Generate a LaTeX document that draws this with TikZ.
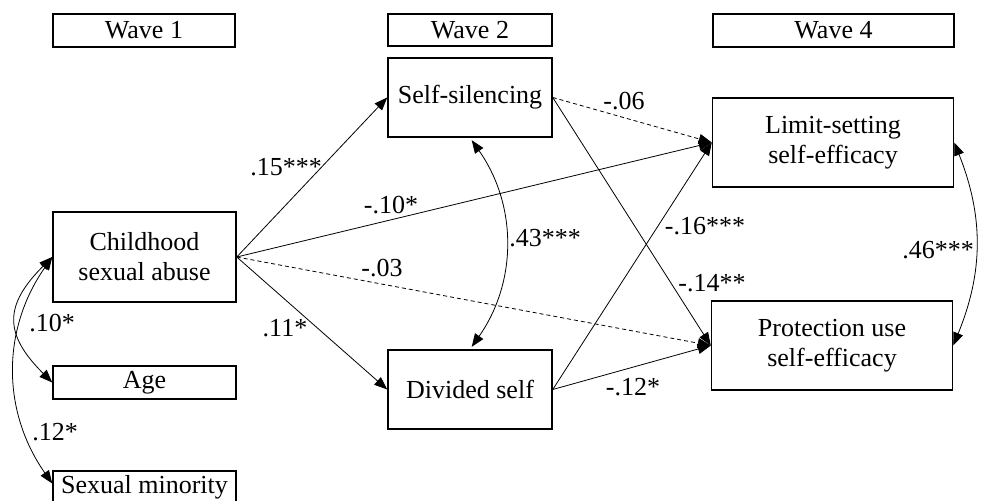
\documentclass[tikz,border=0pt]{standalone}
\usepackage{fontspec}
\setmainfont{Liberation Serif}
\usetikzlibrary{arrows.meta}
\begin{document}
\begin{tikzpicture}[x=1pt,y=1pt,
  box/.style={draw, line width=1.5pt, inner sep=0pt, align=center, font=\fontsize{26}{30}\selectfont},
  lbl/.style={inner sep=0pt, font=\fontsize{26}{30}\selectfont},
  arr/.style={line width=0.8pt, -{Triangle[length=13pt,width=10pt]}},
  dbl/.style={line width=0.8pt, {Triangle[length=13pt,width=10pt]}-{Triangle[length=13pt,width=10pt]}},
  dsh/.style={dash pattern=on 4pt off 3pt}]
\useasboundingbox (0,0) rectangle (981,500);
% wave headers
\node[box, minimum width=182pt, minimum height=33pt] (w1) at (144,469.5) {Wave 1};
\node[box, minimum width=164pt, minimum height=32pt] (w2) at (470,470) {Wave 2};
\node[box, minimum width=241pt, minimum height=33pt] (w4) at (833.5,469.5) {Wave 4};
% variables
\node[box, minimum width=164pt, minimum height=79pt] (ss) at (470,402.5) {Self-silencing};
\node[box, minimum width=241pt, minimum height=89pt] (ls) at (833,357.5) {Limit-setting\\self-efficacy};
\node[box, minimum width=183pt, minimum height=90pt] (cs) at (144.5,243) {Childhood\\sexual abuse};
\node[box, minimum width=164pt, minimum height=79pt] (ds) at (470,110.5) {Divided self};
\node[box, minimum width=241pt, minimum height=89pt] (pu) at (832,154.5) {Protection use\\self-efficacy};
\node[box, minimum width=183pt, minimum height=33pt] (age) at (144.5,117.5) {Age};
\node[box, minimum width=183pt, minimum height=33pt] (sm) at (144.5,12.5) {Sexual minority};
% paths
\draw[arr] (cs.east) -- (ss.west);
\draw[arr] (cs.east) -- (ls.west);
\draw[arr,dsh] (cs.east) -- (pu.west);
\draw[arr] (cs.east) -- (ds.west);
\draw[arr,dsh] (ss.east) -- (ls.west);
\draw[arr] (ss.east) -- (pu.west);
\draw[arr] (ds.east) -- (ls.west);
\draw[arr] (ds.east) -- (pu.west);
% correlations
\draw[dbl, shorten <=3pt, shorten >=3pt] (ss.south) to[bend left=35] (ds.north);
\draw[dbl] (ls.east) to[bend left=22] (pu.east);
\draw[dbl] (cs.west) to[out=225,in=135,looseness=1.4] (age.west);
\draw[dbl] (cs.west) to[out=235,in=125] ([yshift=4pt]sm.west);
% labels
\node[lbl] (l1) at (286,333) {.15***};
\node[lbl] (l2) at (391,295) {-.10*};
\node[lbl] (l3) at (382,232) {-.03};
\node[lbl] (l4) at (285,172) {.11*};
\node[lbl] (l5) at (624,399) {-.06};
\node[lbl] (l6) at (712,217) {-.14**};
\node[lbl] (l7) at (705,274) {-.16***};
\node[lbl] (l8) at (633,113) {-.12*};
\node[lbl] (l9) at (545,262) {.43***};
\node[lbl] (l10) at (938,250) {.46***};
\node[lbl] (l11) at (52,177) {.10*};
\node[lbl] (l12) at (55,68) {.12*};
\end{tikzpicture}
\end{document}
